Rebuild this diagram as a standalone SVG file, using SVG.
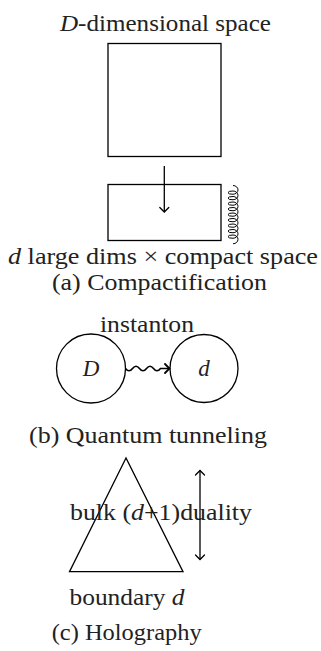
<svg xmlns="http://www.w3.org/2000/svg" width="321" height="651" viewBox="0 0 321 651">
<defs>
<style>
.s{fill:none;stroke:#000;stroke-width:1.3}
text{font-family:'Liberation Serif','DejaVu Serif',serif;font-size:23px;fill:#222}
.i{font-style:italic}
</style>
<marker id="ah" viewBox="-6 -6 8 12" markerWidth="8" markerHeight="12" refX="0" refY="0" orient="auto" markerUnits="userSpaceOnUse">
<path d="M-4.5,-4.5 Q-1,-1 0,0 Q-1,1 -4.5,4.5" fill="none" stroke="#000" stroke-width="1.3" stroke-linecap="round"/>
</marker>
<marker id="ahs" viewBox="-6 -6 8 12" markerWidth="8" markerHeight="12" refX="0" refY="0" orient="auto-start-reverse" markerUnits="userSpaceOnUse">
<path d="M-4.5,-4.5 Q-1,-1 0,0 Q-1,1 -4.5,4.5" fill="none" stroke="#000" stroke-width="1.3" stroke-linecap="round"/>
</marker>
<marker id="ahb" viewBox="-6 -6 8 12" markerWidth="8" markerHeight="12" refX="0" refY="0" orient="auto" markerUnits="userSpaceOnUse">
<path d="M-4.5,-4.5 Q-1,-1 0,0 Q-1,1 -4.5,4.5" fill="none" stroke="#000" stroke-width="1.8" stroke-linecap="round"/>
</marker>
</defs>
<rect width="321" height="651" fill="#fff"/>

<g id="panel-a">
<text x="60" y="31" textLength="211" lengthAdjust="spacingAndGlyphs"><tspan class="i">D</tspan>-dimensional space</text>
<g id="big-space"><rect class="s" x="108" y="43.5" width="113" height="113"/></g>
<g id="compact-space"><rect class="s" x="108" y="184.5" width="113" height="56"/>
<path id="coil" fill="none" stroke="#000" stroke-width="1" d="M233,185.5 a5,4.375 0 0 1 0,8.75 a5,1.625 0 0 1 0,-3.25 a5,4.375 0 0 1 0,8.75 a5,1.625 0 0 1 0,-3.25 a5,4.375 0 0 1 0,8.75 a5,1.625 0 0 1 0,-3.25 a5,4.375 0 0 1 0,8.75 a5,1.625 0 0 1 0,-3.25 a5,4.375 0 0 1 0,8.75 a5,1.625 0 0 1 0,-3.25 a5,4.375 0 0 1 0,8.75 a5,1.625 0 0 1 0,-3.25 a5,4.375 0 0 1 0,8.75 a5,1.625 0 0 1 0,-3.25 a5,4.375 0 0 1 0,8.75 a5,1.625 0 0 1 0,-3.25 a5,4.375 0 0 1 0,8.75 a5,1.625 0 0 1 0,-3.25 a5,4.375 0 0 1 0,8.75"/>
</g>
<text x="8" y="264" textLength="310" lengthAdjust="spacingAndGlyphs"><tspan class="i">d</tspan> large dims × compact space</text>
<text x="52" y="290" textLength="215" lengthAdjust="spacingAndGlyphs">(a) Compactification</text>
</g>

<g id="panel-b">
<text x="100" y="332" textLength="94" lengthAdjust="spacingAndGlyphs">instanton</text>
<g id="node-D"><circle class="s" cx="91" cy="368.5" r="34.5"/><text class="i" x="91" y="376" text-anchor="middle">D</text></g>
<g id="node-d"><circle class="s" cx="204" cy="368.5" r="34"/><text class="i" x="204" y="376" text-anchor="middle">d</text></g>
<text x="29" y="443" textLength="238" lengthAdjust="spacingAndGlyphs">(b) Quantum tunneling</text>
</g>

<g id="panel-c">
<g id="triangle"><polygon class="s" points="126,458 69.5,571.7 183,571.7"/></g>
<text x="70" y="520" textLength="182" lengthAdjust="spacingAndGlyphs">bulk (<tspan class="i">d</tspan>+1)duality</text>
<text x="69.5" y="605" textLength="115" lengthAdjust="spacingAndGlyphs">boundary <tspan class="i">d</tspan></text>
<text x="51.7" y="640" textLength="150" lengthAdjust="spacingAndGlyphs">(c) Holography</text>
</g>

<g id="connectors">
<line class="s" x1="164.3" y1="166" x2="164.3" y2="212" marker-end="url(#ah)"/>
<path fill="none" stroke="#000" stroke-width="1.6" d="M125.5,368.5 q3.5,4.5 7,0 t7,0 t7,0 t7,0 t7,0 L169.5,368.5" marker-end="url(#ahb)"/>
<line class="s" x1="200" y1="470.5" x2="200" y2="559.5" marker-start="url(#ahs)" marker-end="url(#ahs)"/>
</g>
</svg>
